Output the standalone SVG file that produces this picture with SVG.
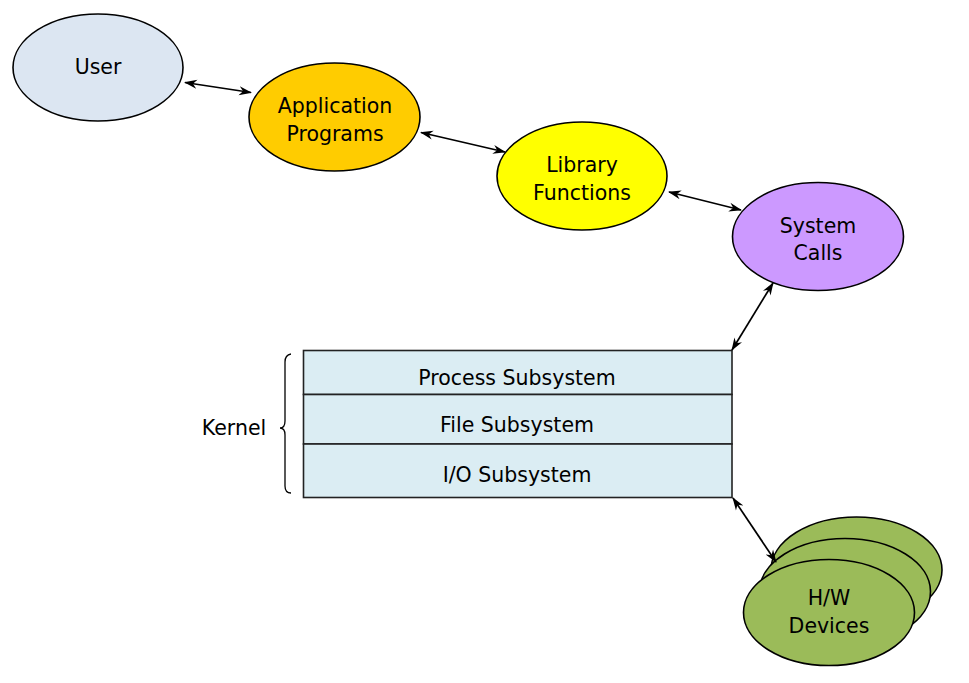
<svg xmlns="http://www.w3.org/2000/svg" width="969" height="683" viewBox="0 0 969 683">
<style>
  .node { stroke: #000; stroke-width: 1.6; }
  .lbl { font-family: "DejaVu Sans", "Noto Sans", sans-serif; font-size: 20.5px; fill: #000; text-anchor: middle; }
  .conn { stroke: #000; stroke-width: 1.7; fill: none; marker-start: url(#arr); marker-end: url(#arr); }
  .band { fill: #dbedf3; stroke: #222; stroke-width: 1.6; }
</style>
<defs>
  <marker id="arr" viewBox="0 0 13 10" refX="12" refY="5" markerWidth="13" markerHeight="10" markerUnits="userSpaceOnUse" orient="auto-start-reverse">
    <path d="M0,0.5 L13,5 L0,9.5 L4,5 z" fill="#000"/>
  </marker>
</defs>
<rect width="969" height="683" fill="#fff"/>

<g id="user">
  <ellipse class="node" cx="98" cy="67.5" rx="85" ry="53.5" fill="#dce6f2"/>
  <text class="lbl" x="98" y="74">User</text>
</g>
<g id="app">
  <ellipse class="node" cx="334.5" cy="117" rx="85.5" ry="54" fill="#ffcc00"/>
  <text class="lbl" x="335" y="113">Application</text>
  <text class="lbl" x="335" y="141">Programs</text>
</g>
<g id="lib">
  <ellipse class="node" cx="582" cy="176" rx="85" ry="54" fill="#ffff00"/>
  <text class="lbl" x="582" y="172">Library</text>
  <text class="lbl" x="582" y="200">Functions</text>
</g>
<g id="syscalls">
  <ellipse class="node" cx="818" cy="236.5" rx="85.5" ry="54" fill="#cc99ff"/>
  <text class="lbl" x="818" y="233">System</text>
  <text class="lbl" x="818" y="260">Calls</text>
</g>
<g id="kernel">
  <rect class="band" x="303.5" y="350.5" width="428.5" height="44"/>
  <rect class="band" x="303.5" y="394.5" width="428.5" height="49.5"/>
  <rect class="band" x="303.5" y="444" width="428.5" height="53.5"/>
  <text class="lbl" x="517" y="385">Process Subsystem</text>
  <text class="lbl" x="517" y="432">File Subsystem</text>
  <text class="lbl" x="517" y="482">I/O Subsystem</text>
  <path d="M291,354 Q285,355 285,362 L285,421 Q285,428 280,428 Q285,428 285,435 L285,486 Q285,493 291,493" fill="none" stroke="#000" stroke-width="1.3"/>
  <text class="lbl" x="234" y="435">Kernel</text>
</g>
<g id="hw">
  <ellipse class="node" cx="856.5" cy="570" rx="85.5" ry="53" fill="#9bbb59"/>
  <ellipse class="node" cx="845" cy="591.5" rx="85.5" ry="53" fill="#9bbb59"/>
  <ellipse class="node" cx="829" cy="612.5" rx="85.5" ry="53" fill="#9bbb59"/>
  <text class="lbl" x="829" y="605">H/W</text>
  <text class="lbl" x="829" y="633">Devices</text>
</g>

<g id="connectors">
  <line class="conn" x1="185" y1="82.5" x2="251" y2="92.5"/>
  <line class="conn" x1="421" y1="132.5" x2="505" y2="152"/>
  <line class="conn" x1="669" y1="192" x2="741" y2="210"/>
  <line class="conn" x1="732" y1="350" x2="773" y2="283"/>
  <line class="conn" x1="733" y1="498" x2="776" y2="562"/>
</g>
</svg>
